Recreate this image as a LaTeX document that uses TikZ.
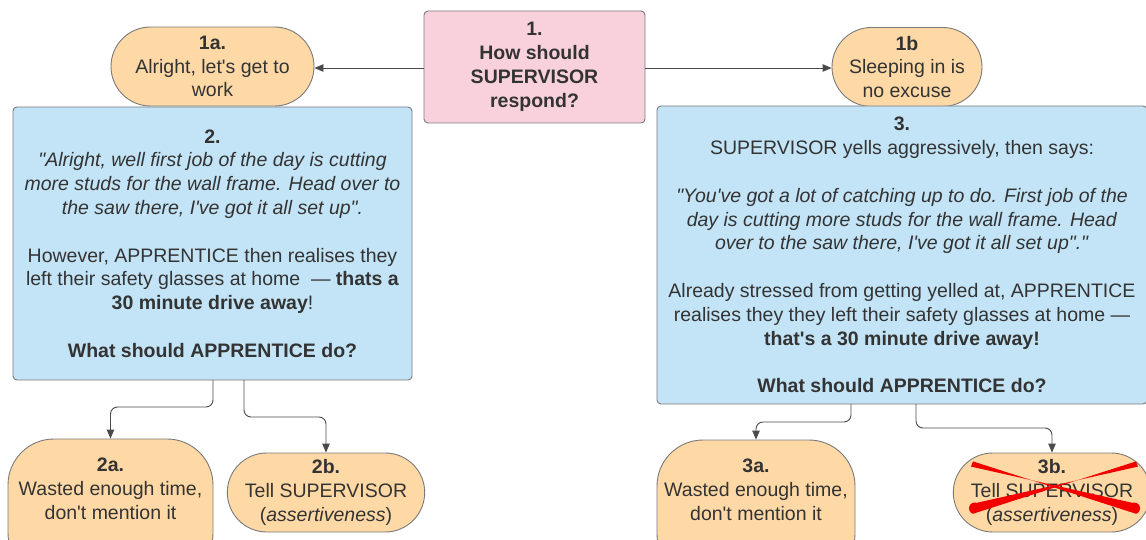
\documentclass[tikz,border=0pt]{standalone}
\usepackage{fontspec}
\newfontfamily\lib{Liberation Sans}
\usetikzlibrary{arrows.meta,shapes.misc}
\definecolor{txt}{HTML}{333333}
\definecolor{edge}{HTML}{7A7A7A}
\definecolor{pinkfill}{HTML}{F9D1DD}
\definecolor{orangefill}{HTML}{FED9A6}
\definecolor{bluefill}{HTML}{C3E4F6}
\definecolor{linecol}{HTML}{4A4A4A}
\definecolor{xred}{HTML}{F20000}
\tikzset{
  base/.style={font=\lib\fontsize{19.5}{23.8}\selectfont, text=txt, align=center, inner sep=0pt, draw=edge, line width=0.9pt},
  pinkbox/.style={base, rectangle, rounded corners=4pt, fill=pinkfill},
  bluebox/.style={base, rectangle, rounded corners=4pt, fill=bluefill},
  pill/.style={base, rounded rectangle, fill=orangefill, minimum height=79pt},
  tallpill/.style={base, rectangle, rounded corners=46pt, fill=orangefill},
  plaintext/.style={font=\lib\fontsize{19.5}{23.8}\selectfont, text=txt, align=center, inner sep=0pt},
  conn/.style={draw=linecol, line width=0.9pt, -{Triangle[length=9pt,width=7.5pt]}},
  elbow/.style={conn, rounded corners=7pt}
}
\begin{document}
\begin{tikzpicture}[x=1pt,y=-1pt]
\useasboundingbox (0,0) rectangle (1146,540);

% top question
\node[pinkbox, minimum width=221pt, minimum height=112pt] (n1) at (534.5,67)
  {\textbf{1.}\\\textbf{How should}\\\textbf{SUPERVISOR}\\\textbf{respond?}};

\node[pill, minimum width=203pt] (n1a) at (212.5,66.5)
  {\textbf{1a.}\\Alright, let's get to\\work};
\node[pill, minimum width=150pt] (n1b) at (907,67)
  {\textbf{1b}\\Sleeping in is\\no excuse};

% scenario boxes
\node[bluebox, minimum width=399pt, minimum height=273pt] (n2) at (212.5,243.5)
  {\textbf{2.}\\
   \textit{"Alright, well first job of the day is cutting}\\
   \textit{more studs for the wall frame. Head over to}\\
   \textit{the saw there, I've got it all set up".}\\[23.8pt]
   However, APPRENTICE then realises they\\
   left their safety glasses at home\ \ — \textbf{thats a}\\
   \textbf{30 minute drive away}!\\[23.8pt]
   \textbf{What should APPRENTICE do?}};

\node[bluebox, minimum width=490pt, minimum height=298pt] (n3) at (902,255)
  {\textbf{3.}\\
   SUPERVISOR yells aggressively, then says:\\[23.8pt]
   \textit{"You've got a lot of catching up to do. First job of the}\\
   \textit{day is cutting more studs for the wall frame. Head}\\
   \textit{over to the saw there, I've got it all set up"."}\\[23.8pt]
   Already stressed from getting yelled at, APPRENTICE\\
   realises they they left their safety glasses at home —\\
   \textbf{that's a 30 minute drive away!}\\[23.8pt]
   \textbf{What should APPRENTICE do?}};

% answers
\node[tallpill, minimum width=205pt, minimum height=140pt] (n2a) at (110.5,509) {};
\node[plaintext] (t2a) at (110.5,489) {\textbf{2a.}\\Wasted enough time,\\don't mention it};
\node[pill, minimum width=192pt] (n2b) at (326,492.5)
  {\textbf{2b.}\\Tell SUPERVISOR\\(\textit{assertiveness})};

\node[tallpill, minimum width=198pt, minimum height=140pt] (n3a) at (756,510) {};
\node[plaintext] (t3a) at (756,489.5) {\textbf{3a.}\\Wasted enough time,\\don't mention it};
\node[pill, minimum width=188pt] (n3b) at (1052,492.5)
  {\textbf{3b.}\\Tell SUPERVISOR\\(\textit{assertiveness})};

% connectors
\draw[conn] (n1.west |- 0,68) -- (n1a.east |- 0,68);
\draw[conn] (n1.east |- 0,68) -- (n1b.west |- 0,68);

\coordinate (s2a) at (213,380);
\coordinate (s2b) at (244,380);
\draw[elbow] (s2a) -- (213,407) -| (n2a.north);
\draw[elbow] (s2b) -- (244,417) -| (n2b.north);

\coordinate (s3a) at (851,404);
\coordinate (s3b) at (916,404);
\draw[elbow] (s3a) -- (851,422) -| (n3a.north);
\draw[elbow] (s3b) -- (916,428) -| (n3b.north);

% red cross over 3b
\fill[xred] (971.0,466.6) -- (973.0,461.4) -- (1136.1,513.8)
  arc[start angle=-71, end angle=109, radius=5.8pt] -- cycle;
\fill[xred] (1138.0,466.6) -- (1136.0,461.4) -- (972.9,513.8)
  arc[start angle=-109, end angle=-289, radius=5.8pt] -- cycle;
\end{tikzpicture}
\end{document}
